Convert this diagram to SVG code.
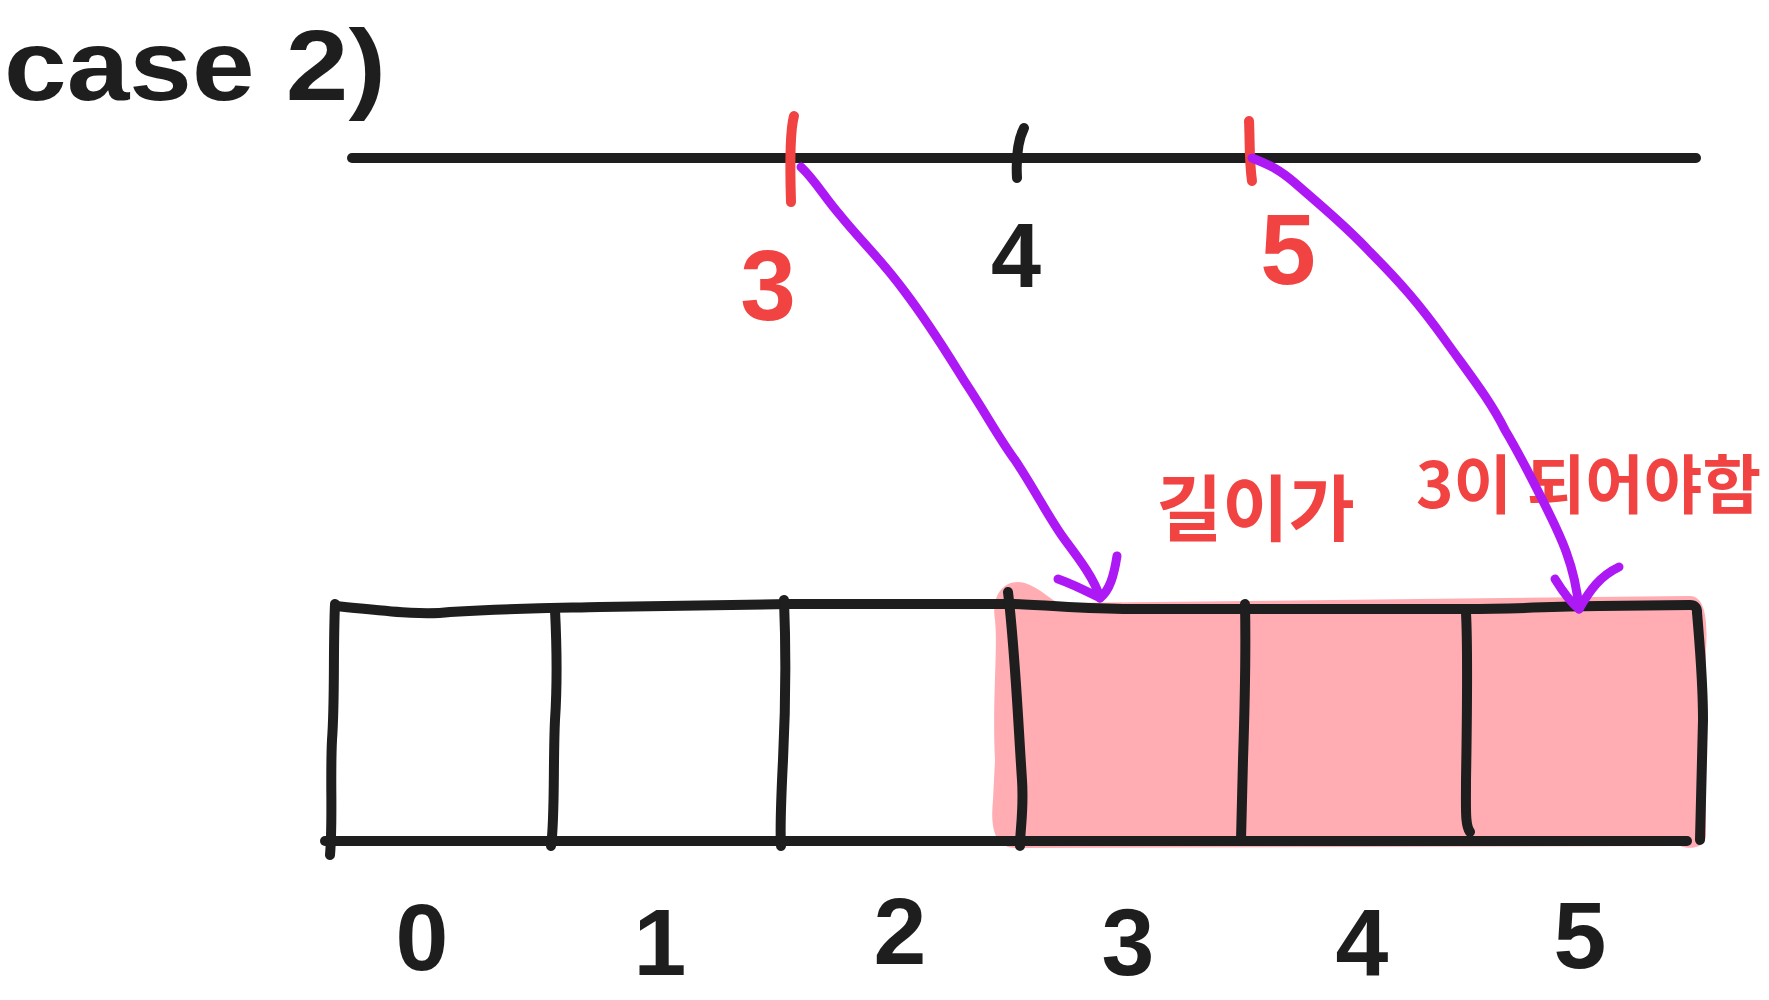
<svg xmlns="http://www.w3.org/2000/svg" width="1769" height="1000" viewBox="0 0 1769 1000">
<style>
.ink{fill:none;stroke:#1e1e1e;stroke-width:10;stroke-linecap:round;stroke-linejoin:round}
.red{fill:none;stroke:#f24343;stroke-width:10;stroke-linecap:round;stroke-linejoin:round}
.arrow{fill:none;stroke:#ad19f5;stroke-width:9;stroke-linecap:round;stroke-linejoin:round}
.num{font-family:"Liberation Sans","DejaVu Sans",sans-serif;font-weight:bold;text-anchor:middle}
.kr{font-family:"Noto Sans CJK KR","Noto Sans",sans-serif;font-weight:bold;fill:#f24343}
</style>
<rect width="1769" height="1000" fill="#ffffff"/>
<g id="title">
<text x="4" y="100" class="num" style="text-anchor:start" font-size="100" fill="#1e1e1e" textLength="382" lengthAdjust="spacingAndGlyphs">case 2)</text>
</g>
<g id="timeline">
<path class="ink" d="M352 158 L1696 158"/>
<path class="red" d="M794 116 C790 130 790 170 791 202"/>
<path class="ink" d="M1024 128 C1018 140 1016 160 1017 178"/>
<path class="red" d="M1249 121 C1250 140 1249 160 1252 181"/>
</g>
<g id="timeline-labels">
<text x="768" y="320" class="num" font-size="100" fill="#f24343">3</text>
<text x="1016" y="287" class="num" font-size="90" fill="#1e1e1e">4</text>
<text x="1288" y="284" class="num" font-size="100" fill="#f24343">5</text>
</g>
<g id="array">
<path id="highlight" d="M995 620 C990 590 1010 575 1030 585 C1045 592 1050 600 1060 603 L1690 596 C1705 596 1708 620 1706 650 L1706 835 C1706 848 1690 850 1680 846 L1020 848 C995 850 990 830 993 800 L995 760 C992 700 998 650 995 620 Z" fill="#ffadb3"/>
<path class="ink" d="M335 606 C380 610 420 616 450 612 C520 608 560 608 600 607 L790 604 L1015 604 C1060 606 1090 609 1130 609 L1467 609 C1520 609 1560 606 1600 606 L1690 605 Q1697 605 1697 612"/>
<path class="ink" d="M1697 612 C1700 650 1703 680 1703 720 L1700 840"/>
<path class="ink" d="M335 604 C333 650 335 700 332 740 C330 780 333 820 330 855"/>
<path class="ink" d="M325 841 L1687 841"/>
<path class="ink" d="M555 610 C557 650 557 690 555 720 C553 760 555 820 551 846"/>
<path class="ink" d="M784 600 C786 650 786 700 783 760 C781 800 780 830 781 846"/>
<path class="ink" d="M1008 592 C1015 650 1018 720 1022 780 C1024 810 1020 830 1020 846"/>
<path class="ink" d="M1245 604 C1246 650 1245 700 1243 760 L1241 840"/>
<path class="ink" d="M1466 613 C1468 650 1467 720 1466 780 C1466 810 1465 825 1470 832"/>
</g>
<g id="index-labels">
<text x="422" y="970" class="num" font-size="95" fill="#1e1e1e">0</text>
<text x="660" y="975" class="num" font-size="95" fill="#1e1e1e">1</text>
<text x="900" y="964" class="num" font-size="95" fill="#1e1e1e">2</text>
<text x="1128" y="975" class="num" font-size="95" fill="#1e1e1e">3</text>
<text x="1362" y="975" class="num" font-size="95" fill="#1e1e1e">4</text>
<text x="1580" y="968" class="num" font-size="95" fill="#1e1e1e">5</text>
</g>
<g id="note">
<text x="1156" y="535" class="kr" font-size="72">길이가</text>
<text x="1416" y="508" class="kr" font-size="64" textLength="345" lengthAdjust="spacingAndGlyphs">3이 되어야함</text>
</g>
<g id="connectors">
<path class="arrow" d="M801 167 C815 180 825 198 840 215 C860 240 880 258 905 292 C930 325 945 350 965 382 C985 412 1000 440 1015 460 C1035 490 1050 520 1065 540 C1080 560 1095 580 1100 598"/>
<path class="arrow" d="M1058 579 C1075 585 1090 593 1100 598 M1117 556 C1114 575 1110 590 1100 598"/>
<path class="arrow" d="M1252 158 C1270 165 1280 170 1295 183 C1320 205 1345 225 1370 252 C1400 282 1420 305 1445 340 C1470 375 1490 400 1505 430 C1520 455 1530 475 1545 505 C1560 535 1575 565 1579 609"/>
<path class="arrow" d="M1555 579 C1563 592 1570 602 1579 609 M1619 567 C1600 576 1590 590 1579 609"/>
</g>
</svg>
